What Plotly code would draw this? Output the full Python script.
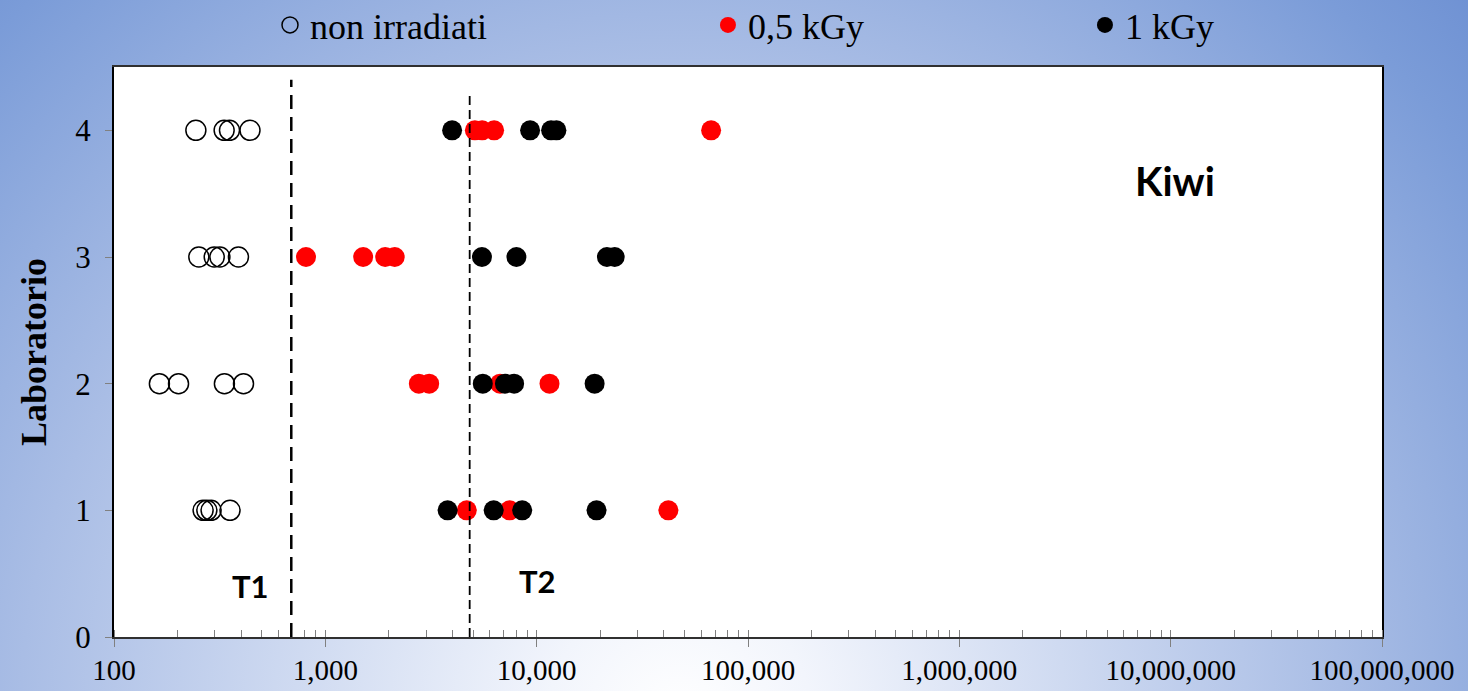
import base64
import plotly.graph_objects as go

# ---- data ----
series_names = ["non irradiati", "0,5 kGy", "1 kGy"]

non_irr_x = [264, 275, 288, 354, 164, 202, 333, 410, 252, 298, 317, 388, 244, 332, 352, 440]
non_irr_lab = [1, 1, 1, 1, 2, 2, 2, 2, 3, 3, 3, 3, 4, 4, 4, 4]

kgy05_x = [4670, 7450, 42000, 2770, 3100, 6710, 11500, 810, 1510, 1920, 2130, 5100, 5520, 6290, 66900]
kgy05_lab = [1, 1, 1, 2, 2, 2, 2, 3, 3, 3, 3, 4, 4, 4, 4]

kgy1_x = [3790, 6260, 8540, 19200, 5560, 7080, 7820, 18800, 5510, 8020, 21500, 23400, 3980, 9310, 11700, 12400]
kgy1_lab = [1, 1, 1, 1, 2, 2, 2, 2, 3, 3, 3, 3, 4, 4, 4, 4]

t1_x = [690, 690]
t1_y = [0, 4.4]
t2_x = [4820, 4820]
t2_y = [0, 4.3]

x_tickvals = [100, 1000, 10000, 100000, 1000000, 10000000, 100000000]
x_ticktext = ["100", "1,000", "10,000", "100,000", "1,000,000", "10,000,000", "100,000,000"]
y_tickvals = [0, 1, 2, 3, 4]

# ---- layout geometry ----
W, H = 1468, 691
ML, MR, MT, MB = 114, 86, 67, 54
PW, PH = W - ML - MR, H - MT - MB

svg = f'''<svg xmlns="http://www.w3.org/2000/svg" width="{W}" height="{H}" viewBox="0 0 {W} {H}" preserveAspectRatio="none"><defs><radialGradient id="g" gradientUnits="userSpaceOnUse" cx="680" cy="720" r="1100"><stop offset="0" stop-color="#ffffff"/><stop offset="0.12" stop-color="#f2f5fc"/><stop offset="0.6" stop-color="#a9bde5"/><stop offset="0.88" stop-color="#7b9cd8"/><stop offset="1" stop-color="#6c8fd2"/></radialGradient></defs><rect width="{W}" height="{H}" fill="url(#g)"/></svg>'''
bg_src = "data:image/svg+xml;base64," + base64.b64encode(svg.encode()).decode()

pad = "\u00a0" * 24

fig = go.Figure()
fig.add_trace(go.Scatter(
    x=non_irr_x, y=non_irr_lab, mode="markers", name=series_names[0] + pad,
    marker=dict(symbol="circle-open", size=20, color="black", line=dict(width=1.5, color="black")),
))
fig.add_trace(go.Scatter(
    x=kgy05_x, y=kgy05_lab, mode="markers", name=series_names[1] + pad,
    marker=dict(symbol="circle", size=20, color="#ff0000", line=dict(width=0)),
))
fig.add_trace(go.Scatter(
    x=kgy1_x, y=kgy1_lab, mode="markers", name=series_names[2],
    marker=dict(symbol="circle", size=20, color="#000000", line=dict(width=0)),
))
fig.add_trace(go.Scatter(
    x=t1_x, y=t1_y, mode="lines", showlegend=False, hoverinfo="skip",
    line=dict(color="black", width=2.5, dash="14px,8px"),
))
fig.add_trace(go.Scatter(
    x=t2_x, y=t2_y, mode="lines", showlegend=False, hoverinfo="skip",
    line=dict(color="black", width=1.8, dash="9px,5px"),
))

fig.update_layout(
    width=W, height=H,
    margin=dict(l=ML, r=MR, t=MT, b=MB, pad=0, autoexpand=False),
    paper_bgcolor="#7b9cd8",
    plot_bgcolor="white",
    images=[dict(source=bg_src, xref="paper", yref="paper",
                 x=-ML / PW, y=1 + MT / PH, sizex=W / PW, sizey=H / PH,
                 xanchor="left", yanchor="top", sizing="stretch", layer="below")],
    shapes=[dict(type="rect", xref="paper", yref="paper", x0=0, x1=1, y0=0, y1=1,
                 fillcolor="white", line=dict(width=0), layer="below")],
    legend=dict(orientation="h", x=(270 - ML) / PW, xanchor="left",
                y=1 + (MT - 25) / PH, yanchor="middle",
                bgcolor="rgba(0,0,0,0)", borderwidth=0,
                font=dict(family="Liberation Serif", size=36, color="black")),
    font=dict(family="Liberation Serif", color="black"),
    xaxis=dict(type="log", range=[2, 8], tickvals=x_tickvals, ticktext=x_ticktext,
               tickfont=dict(family="Liberation Serif", size=29, color="black"),
               ticks="outside", ticklen=8, tickcolor="#808080", tickwidth=1,
               ticklabelstandoff=-2,
               minor=dict(ticks="inside", ticklen=7, tickcolor="#808080", dtick="D1", showgrid=False),
               showgrid=False, zeroline=False,
               showline=True, linecolor="#303030", linewidth=2, mirror=True),
    yaxis=dict(range=[0, 4.5], tickvals=y_tickvals,
               tickfont=dict(family="Liberation Serif", size=31, color="black"),
               ticks="outside", ticklen=7, tickcolor="#808080",
               ticklabelstandoff=8,
               showgrid=False, zeroline=False,
               showline=True, linecolor="black", linewidth=2, mirror=True,
               title=dict(text="<b>Laboratorio</b>", standoff=18,
                          font=dict(family="Liberation Serif", size=36, color="black"))),
    annotations=[
        dict(x=2.644, y=0.40, xref="x", yref="y", text="<b>T1</b>", showarrow=False,
             font=dict(family="Lato", size=31, color="black")),
        dict(x=4.002, y=0.44, xref="x", yref="y", text="<b>T2</b>", showarrow=False,
             font=dict(family="Lato", size=31, color="black")),
        dict(x=7.02, y=3.60, xref="x", yref="y", text="<b>Kiwi</b>", showarrow=False,
             font=dict(family="Lato", size=40, color="black")),
    ],
)

fig.write_html(
    "out.html",
    config={"displayModeBar": False},
    post_script="document.body.style.margin='0';document.body.style.overflow='hidden';",
)
